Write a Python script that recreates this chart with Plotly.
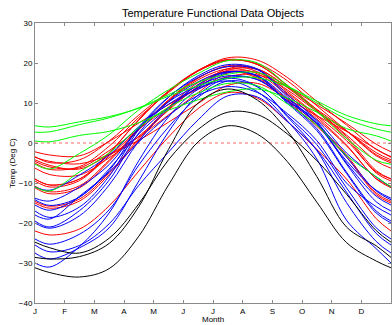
import plotly.graph_objects as go

# x positions: Jan 1 edge, mid-months, Dec 31 edge (months)
month_x = [0, 0.5, 1.5, 2.5, 3.5, 4.5, 5.5, 6.5, 7.5, 8.5, 9.5, 10.5, 11.5, 12]
tick_labels = ["J", "F", "M", "A", "M", "J", "J", "A", "S", "O", "N", "D", "J"]
y_ticks = [-40, -30, -20, -10, 0, 10, 20, 30]

# Each station: [Jan1 value, Jan..Dec mid-month values]
atlantic = {
    "St. Johns":   [-3.6, -4.6, -5.2, -2.9, 0.7, 5.2, 9.9, 14.4, 14.9, 11.1, 6.8, 2.9, -1.5],
    "Halifax":     [-4.6, -6.0, -6.2, -1.9, 3.5, 9.0, 13.9, 18.2, 18.4, 14.0, 8.4, 3.1, -2.9],
    "Sydney":      [-4.2, -5.6, -6.5, -2.9, 1.5, 7.0, 12.6, 17.5, 17.6, 13.3, 7.9, 3.0, -2.4],
    "Yarmouth":    [-2.2, -3.0, -3.2, 0.4, 5.0, 9.6, 13.5, 16.6, 17.0, 14.0, 9.6, 4.9, -0.3],
    "Charlottvl":  [-6.3, -7.9, -8.0, -3.7, 1.7, 8.2, 14.2, 18.6, 18.5, 13.9, 8.0, 2.0, -4.5],
    "Fredericton": [-9.0, -10.5, -9.0, -3.3, 3.6, 10.6, 16.2, 19.3, 18.4, 12.9, 6.9, 0.6, -7.2],
    "Scheffervll": [-22.0, -23.0, -21.5, -15.7, -7.0, 1.5, 8.6, 12.6, 11.2, 5.4, -1.6, -9.0, -18.9],
    "Arvida":      [-14.6, -15.8, -14.0, -7.4, 1.1, 8.9, 15.1, 18.0, 16.5, 10.9, 4.7, -3.0, -12.5],
    "Bagottville": [-15.0, -16.3, -14.5, -7.9, 0.7, 8.4, 14.6, 17.8, 16.2, 10.5, 4.2, -3.5, -12.9],
    "Quebec":      [-11.2, -12.7, -11.2, -4.6, 3.3, 10.8, 16.3, 19.1, 17.8, 12.5, 6.5, -0.5, -9.0],
    "Sherbrooke":  [-10.8, -12.2, -10.7, -4.3, 3.5, 10.5, 15.8, 18.5, 17.3, 12.0, 6.0, -0.7, -8.9],
    "Montreal":    [-9.0, -10.5, -9.0, -2.4, 5.7, 12.9, 18.0, 20.8, 19.6, 14.5, 8.3, 1.6, -6.9],
    "Ottawa":      [-9.5, -11.0, -9.4, -2.6, 5.9, 13.0, 18.2, 20.9, 19.6, 14.3, 7.9, 1.2, -7.5],
    "Toronto":     [-3.4, -4.9, -4.2, 0.5, 7.0, 12.9, 18.1, 21.3, 20.7, 16.4, 10.4, 4.5, -1.6],
    "London":      [-5.0, -6.6, -5.9, -0.8, 6.4, 12.6, 18.0, 20.6, 19.8, 15.6, 9.3, 3.1, -3.2],
}
continental = {
    "Thunder Bay": [-14.2, -15.6, -13.5, -6.5, 2.3, 8.8, 13.9, 17.6, 16.8, 11.2, 5.0, -3.5, -12.0],
    "Winnipeg":    [-17.0, -18.6, -16.0, -8.3, 3.4, 11.4, 16.8, 19.6, 18.5, 12.2, 5.4, -5.3, -14.7],
    "The Pas":     [-20.0, -21.3, -18.2, -10.5, 0.5, 8.7, 14.6, 17.8, 16.7, 10.0, 3.1, -7.6, -17.5],
    "Churchill":   [-25.5, -27.2, -25.6, -20.2, -10.6, -2.3, 5.8, 11.8, 11.5, 5.4, -1.7, -12.3, -22.6],
    "Regina":      [-15.5, -16.8, -13.5, -6.9, 3.9, 11.5, 16.4, 19.1, 18.3, 11.6, 4.8, -5.0, -13.3],
    "Pr. Albert":  [-19.5, -21.0, -16.9, -9.3, 2.5, 10.3, 15.3, 17.8, 16.8, 10.3, 3.6, -7.3, -17.0],
    "Uranium Cty": [-24.0, -25.3, -22.8, -16.7, -5.5, 4.0, 11.4, 15.5, 14.0, 6.9, -0.4, -11.2, -21.2],
    "Edmonton":    [-13.8, -14.5, -11.0, -5.4, 3.7, 10.3, 14.3, 16.8, 15.8, 10.6, 4.8, -4.5, -11.8],
    "Calgary":     [-11.0, -11.8, -8.0, -3.0, 4.1, 9.7, 13.7, 16.4, 15.9, 10.6, 5.7, -2.5, -8.5],
    "Whitehorse":  [-18.0, -19.0, -13.3, -7.3, 0.3, 6.8, 11.9, 14.1, 12.6, 7.4, 0.6, -10.0, -15.9],
    "Dawson":      [-30.0, -31.0, -25.9, -17.5, -4.4, 6.5, 13.4, 15.5, 12.8, 5.6, -4.0, -19.3, -26.4],
    "Yellowknife": [-27.5, -29.0, -26.2, -21.2, -9.5, 2.8, 12.0, 16.1, 14.1, 6.6, -1.9, -14.9, -24.6],
}
pacific = {
    "Kamloops":    [-5.3, -6.5, -2.6, 2.1, 8.3, 13.3, 17.4, 20.6, 20.0, 14.4, 7.9, 1.1, -4.3],
    "Vancouver":   [2.7, 2.8, 4.6, 6.3, 8.8, 12.1, 15.2, 17.2, 17.6, 14.3, 10.0, 6.0, 3.5],
    "Victoria":    [4.3, 4.0, 5.3, 6.6, 8.7, 11.7, 14.3, 16.2, 16.3, 14.1, 10.5, 6.9, 4.8],
    "Pr. George":  [-11.0, -12.0, -7.2, -2.5, 3.9, 8.9, 12.5, 14.9, 14.3, 9.8, 4.5, -3.1, -8.4],
    "Pr. Rupert":  [0.5, 0.3, 1.9, 2.9, 5.1, 8.2, 10.8, 12.8, 13.5, 11.2, 7.7, 3.6, 1.8],
}
arctic = {
    "Iqaluit":     [-24.8, -26.2, -27.5, -23.8, -15.2, -4.2, 3.4, 7.7, 7.1, 2.3, -4.4, -12.8, -21.9],
    "Inuvik":      [-28.6, -29.0, -28.4, -25.1, -15.9, -1.6, 10.0, 13.5, 10.7, 3.1, -8.4, -21.0, -25.7],
    "Resolute":    [-31.2, -32.4, -33.5, -31.4, -23.3, -10.5, 0.3, 4.3, 2.2, -4.6, -14.8, -24.9, -29.5],
}

regions = [
    (atlantic, "#ff0000"),
    (continental, "#0000ff"),
    (pacific, "#00ff00"),
    (arctic, "#000000"),
]

fig = go.Figure()

# zero reference line
fig.add_trace(go.Scatter(
    x=[month_x[0], month_x[-1]], y=[0, 0], mode="lines",
    line=dict(color="rgba(255,0,0,0.6)", width=1, dash="dot"),
    hoverinfo="skip", showlegend=False,
))

for stations, color in regions:
    for name, vals in stations.items():
        ys = vals + [vals[0]]
        fig.add_trace(go.Scatter(
            x=month_x, y=ys, mode="lines", name=name,
            line=dict(color=color, width=1, shape="spline", smoothing=1.0),
            showlegend=False,
        ))

axis_common = dict(
    showgrid=False, zeroline=False, showline=True, linecolor="#8a8a8a",
    linewidth=1, mirror="ticks", ticks="inside", ticklen=3,
    tickcolor="#8a8a8a", tickfont=dict(family="Liberation Sans, Arial", size=8, color="#000"),
)

fig.update_xaxes(
    range=[0, 12], tickmode="array", tickvals=list(range(13)),
    ticktext=tick_labels, automargin=False, **axis_common,
)
fig.update_yaxes(
    range=[-40, 30], tickmode="array", tickvals=y_ticks,
    automargin=False, **axis_common,
)

fig.update_layout(
    width=392, height=325,
    margin=dict(l=35, r=1, t=23, b=22),
    paper_bgcolor="white", plot_bgcolor="white",
    title=dict(
        text="Temperature Functional Data Objects",
        x=0.5, xref="paper", y=1 - 13 / 325, yref="container", yanchor="middle",
        font=dict(family="Liberation Sans, Arial", size=11, color="#000"),
    ),
    annotations=[
        dict(text="Temp (Deg C)", textangle=-90, xref="paper", yref="paper",
             x=-23 / 356, y=0.5, showarrow=False, xanchor="center", yanchor="middle",
             font=dict(family="Liberation Sans, Arial", size=8, color="#000")),
        dict(text="Month", xref="paper", yref="paper",
             x=0.5, y=-16 / 280, showarrow=False, xanchor="center", yanchor="middle",
             font=dict(family="Liberation Sans, Arial", size=8, color="#000")),
    ],
)

fig.write_html(
    "out.html",
    config={"displayModeBar": False},
    post_script="document.body.style.margin='0';document.body.style.overflow='hidden';",
)
